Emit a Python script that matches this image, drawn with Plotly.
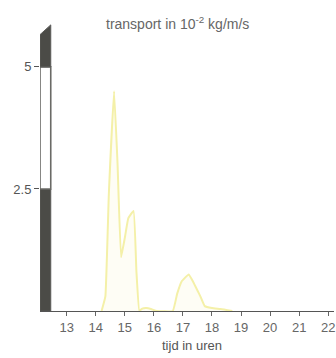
import plotly.graph_objects as go

# transport time series (hours, 10^-2 kg/m/s)
hours = [14.2, 14.33, 14.45, 14.63, 14.75, 14.87, 15.0, 15.12, 15.3, 15.4, 15.5,
         15.6, 15.75, 15.9, 16.1, 16.65, 16.8, 16.95, 17.2, 17.35, 17.5, 17.6,
         17.75, 18.0, 18.3, 18.7]
transport = [0.0, 0.3, 2.4, 4.5, 3.0, 1.1, 1.5, 1.9, 2.05, 0.8, 0.0,
             0.05, 0.06, 0.04, 0.0, 0.0, 0.35, 0.6, 0.75, 0.6, 0.42, 0.3,
             0.1, 0.06, 0.04, 0.0]

x_ticks = [13, 14, 15, 16, 17, 18, 19, 20, 21, 22]
y_ticks = [2.5, 5]
y_tick_labels = ["2.5", "5"]
scale_bar_levels = [0, 2.5, 5]

X_RANGE = [12.08, 22.2]
Y_RANGE = [0, 5.96]
BAR_X = [12.08, 12.45]

fig = go.Figure()
fig.add_trace(go.Scatter(
    x=hours, y=transport, mode="lines",
    line=dict(color="#f4f0a8", width=2, shape="spline", smoothing=0.3),
    fill="tozeroy", fillcolor="rgba(252,250,225,0.35)",
    hoverinfo="skip", showlegend=False,
))

dark = "#4b4b47"
shapes = [
    dict(type="rect", xref="x", yref="y", x0=BAR_X[0], x1=BAR_X[1],
         y0=scale_bar_levels[0], y1=scale_bar_levels[1],
         fillcolor=dark, line=dict(color="#5a5a57", width=1), layer="above"),
    dict(type="rect", xref="x", yref="y", x0=BAR_X[0], x1=BAR_X[1],
         y0=scale_bar_levels[1], y1=scale_bar_levels[2],
         fillcolor="white", line=dict(color="#6a6a66", width=1.6), layer="above"),
    dict(type="path", xref="x", yref="y",
         path=f"M {BAR_X[0]},{scale_bar_levels[2]} L {BAR_X[1]},{scale_bar_levels[2]} "
              f"L {BAR_X[1]},5.86 L {BAR_X[0]},5.66 Z",
         fillcolor=dark, line=dict(color="#5a5a57", width=1), layer="above"),
]

fig.update_layout(
    width=336, height=358,
    margin=dict(l=40, r=2, t=20, b=47, autoexpand=False),
    paper_bgcolor="white", plot_bgcolor="white",
    font=dict(family="Liberation Sans, Arial, sans-serif", size=11, color="#555"),
    shapes=shapes,
    annotations=[
        dict(text="transport in 10<sup>-2</sup> kg/m/s", xref="paper", yref="paper",
             x=0.466, y=1.0, yshift=-3, xanchor="center", yanchor="middle",
             showarrow=False, font=dict(size=14, color="#666")),
        dict(text="tijd in uren", xref="paper", yref="paper",
             x=0.517, y=0, yshift=-25, xanchor="center", yanchor="top",
             showarrow=False, font=dict(size=13, color="#555")),
    ],
    xaxis=dict(range=X_RANGE, tickvals=x_ticks, ticktext=[str(t) for t in x_ticks],
               automargin=False, ticklabeloverflow="allow",
               showgrid=False, zeroline=False, showline=True, linecolor="#555",
               linewidth=1.3, ticks="outside", ticklen=4, tickcolor="#666",
               tickfont=dict(size=13, color="#666")),
    yaxis=dict(range=Y_RANGE, tickvals=y_ticks, ticktext=y_tick_labels,
               automargin=False,
               showgrid=False, zeroline=False, showline=False,
               ticks="outside", ticklen=5, tickcolor="#555",
               tickfont=dict(size=13, color="#555")),
)

fig.write_html("out.html", config={"displayModeBar": False},
               post_script="document.body.style.margin='0';document.body.style.overflow='hidden';")
